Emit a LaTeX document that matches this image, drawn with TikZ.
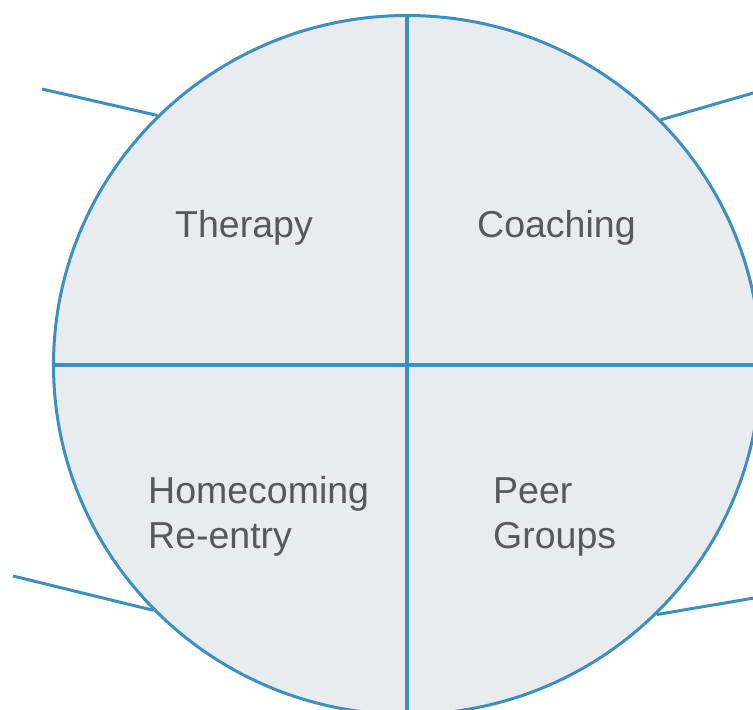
\documentclass[tikz,border=0pt]{standalone}
\usepackage{fontspec}
\setmainfont{Liberation Sans}
\usetikzlibrary{shapes.geometric}
\definecolor{rim}{RGB}{60,143,195}
\definecolor{disk}{RGB}{232,236,238}
\definecolor{ink}{RGB}{88,88,88}
\begin{document}
\begin{tikzpicture}[x=1pt,y=-1pt,
  rimline/.style={draw=rim,line width=3pt},
  label/.style={inner sep=0pt,anchor=base west,align=left,text=ink,
    font=\fontsize{37.5}{45}\selectfont}]
\useasboundingbox (0,0) rectangle (753,710);
\clip (0,0) rectangle (753,710);
\node[ellipse,fill=disk,rimline,inner sep=0pt,minimum width=707pt,minimum height=699pt] (c) at (407,365) {};
\draw[rimline,line width=3.4pt] (c.north) -- (c.south);
\draw[rimline,line width=3.4pt] (c.west) -- (c.east);
\coordinate (ul) at (42,89);
\coordinate (ur) at (760,91);
\coordinate (ll) at (13,576);
\coordinate (lr) at (760,597);
\draw[rimline] (c.135.4) -- (ul);
\draw[rimline] (c.44.6) -- (ur);
\draw[rimline] (c.224.6) -- (ll);
\draw[rimline] (c.315.4) -- (lr);
\node[label] (t1) at (175,237) {Therapy};
\node[label] (t2) at (477,237) {Coaching};
\node[label] (t3) at (148,548) {Homecoming\\Re-entry};
\node[label] (t4) at (493,548) {Peer\\Groups};
\end{tikzpicture}
\end{document}
